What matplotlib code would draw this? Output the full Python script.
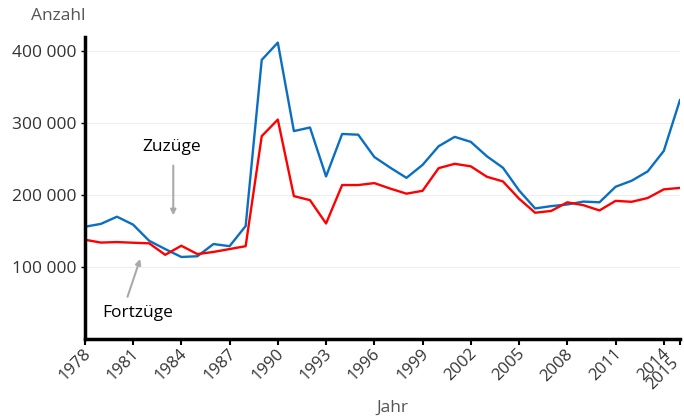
import matplotlib.pyplot as plt
from matplotlib.ticker import FuncFormatter
from matplotlib.transforms import ScaledTranslation

# Daten
JAHRE = list(range(1978, 2016))
ZUZUEGE = [156000, 160000, 170000, 159000, 136500, 125000, 114000, 115000, 132000, 129000,
           157000, 388000, 412000, 289000, 294000, 226000, 285000, 284000, 253000, 238000,
           224000, 242000, 268000, 281000, 274000, 254000, 238000, 206500, 181500, 184700,
           187000, 191000, 190000, 211600, 220000, 233000, 261500, 332000]
FORTZUEGE = [138000, 134000, 134700, 133800, 133000, 117000, 129600, 118000, 121000, 125000,
             129000, 282000, 305000, 198600, 193000, 160600, 214000, 214000, 216700, 209000,
             202000, 206000, 237500, 243500, 240000, 225500, 219000, 195000, 175500, 178000,
             190000, 186000, 178700, 192000, 190700, 196000, 208000, 210000]
X_TICKS = [1978, 1981, 1984, 1987, 1990, 1993, 1996, 1999, 2002, 2005, 2008, 2011, 2014, 2015]
Y_TICKS = [100000, 200000, 300000, 400000]

BLUE = '#0a6fc2'
RED = '#ff0000'
TEXT_COLOR = '#333333'
GRAY_LABEL = '#555555'
FS = 12.5

plt.rcParams['font.family'] = ['Open Sans', 'DejaVu Sans']

fig = plt.figure(figsize=(6.84, 4.19), dpi=100)
ax = fig.add_axes([0.124, 0.191, 0.87, 0.721])

ax.plot(JAHRE, ZUZUEGE, color=BLUE, linewidth=1.7)
ax.plot(JAHRE, FORTZUEGE, color=RED, linewidth=1.7)

ax.set_xlim(1978, 2015)
ax.set_ylim(0, 420000)
ax.set_xticks(X_TICKS)
ax.set_yticks(Y_TICKS)
ax.yaxis.set_major_formatter(FuncFormatter(lambda v, p: f'{int(v):,}'.replace(',', ' ')))
ax.grid(axis='y', color='#eeeeee', linewidth=0.8)
ax.set_axisbelow(True)

for side in ['top', 'right']:
    ax.spines[side].set_visible(False)
for side in ['left', 'bottom']:
    ax.spines[side].set_linewidth(2.5)
    ax.spines[side].set_color('black')

ax.tick_params(axis='x', length=4, width=1.5, colors='black', labelcolor=TEXT_COLOR,
               labelsize=12, pad=1)
ax.tick_params(axis='y', length=3, width=1, colors='black', labelcolor=TEXT_COLOR,
               labelsize=FS, pad=3)
for lbl in ax.get_xticklabels():
    dx, dy = (-6.5, -6) if lbl.get_text() == '2015' else (-1.5, 0)
    lbl.set_rotation(45)
    lbl.set_ha('right')
    lbl.set_rotation_mode('anchor')
    lbl.set_transform(lbl.get_transform() + ScaledTranslation(dx / 72, dy / 72, fig.dpi_scale_trans))

fig.text(58 / 684, 1 - 16 / 419, 'Anzahl', color=GRAY_LABEL, fontsize=FS,
         ha='center', va='center')
fig.text(392 / 684, 1 - 408 / 419, 'Jahr', color=GRAY_LABEL, fontsize=FS,
         ha='center', va='center')

# Beschriftungen mit Pfeilen
arrow = dict(arrowstyle='-|>', color='#aaaaaa', lw=1.5, mutation_scale=8)
ax.annotate('', xy=(1983.5, 168000), xytext=(1983.5, 245000), arrowprops=arrow)
ax.text(1983.4, 267000, 'Zuzüge', fontsize=FS, color='black', ha='center', va='center')
ax.annotate('', xy=(1981.5, 115000), xytext=(1980.6, 55000), arrowprops=arrow)
ax.text(1981.3, 36000, 'Fortzüge', fontsize=FS, color='black', ha='center', va='center')

fig.savefig('out.png', dpi=100)
